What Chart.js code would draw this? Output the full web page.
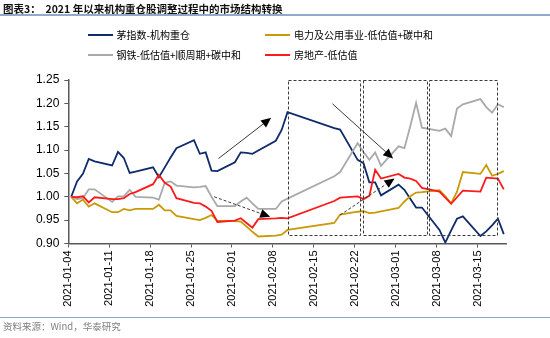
<!DOCTYPE html>
<html><head><meta charset="utf-8">
<script src="https://cdn.jsdelivr.net/npm/chart.js@4/dist/chart.umd.min.js"></script>
<style>
html,body{margin:0;padding:0;background:#fff;}
#wrap{position:relative;width:550px;height:338px;overflow:hidden;font-family:"Noto Sans CJK SC","Liberation Sans",sans-serif;}
#c{position:absolute;left:0;top:0;}
.title{position:absolute;left:3px;top:1px;font-size:10.5px;font-weight:bold;color:#111;white-space:nowrap;line-height:16px;}
.rule{position:absolute;left:0;width:550px;height:2px;background:#8FAACD;}
.leg{position:absolute;font-size:10px;line-height:14px;white-space:nowrap;color:#000;}
.leg i{position:absolute;left:0;top:6px;width:25px;height:2px;}
.leg span{position:absolute;left:29px;top:0;}
.src{position:absolute;left:3px;top:319px;font-size:9.5px;line-height:14px;color:#7f7f7f;white-space:nowrap;}
</style>
</head>
<body>
<div id="wrap">
  <canvas id="c" width="550" height="338"></canvas>
  <div class="title">图表3：&nbsp;&nbsp;2021 年以来机构重仓股调整过程中的市场结构转换</div>
  <div class="rule" style="top:14px;"></div>
  <div id="legend"></div>
  <div class="rule" style="top:316.5px;height:1.5px;"></div>
  <div class="src">资料来源：Wind，华泰研究</div>
</div>
<script>
// ---- data ----
const dates = [
 "2021-01-04","2021-01-05","2021-01-06","2021-01-07","2021-01-08",
 "2021-01-11","2021-01-12","2021-01-13","2021-01-14","2021-01-15",
 "2021-01-18","2021-01-19","2021-01-20","2021-01-21","2021-01-22",
 "2021-01-25","2021-01-26","2021-01-27","2021-01-28","2021-01-29",
 "2021-02-01","2021-02-02","2021-02-03","2021-02-04","2021-02-05",
 "2021-02-08","2021-02-09","2021-02-10","2021-02-18","2021-02-19",
 "2021-02-22","2021-02-23","2021-02-24","2021-02-25","2021-02-26",
 "2021-03-01","2021-03-02","2021-03-03","2021-03-04","2021-03-05",
 "2021-03-08","2021-03-09","2021-03-10","2021-03-11","2021-03-12",
 "2021-03-15","2021-03-16","2021-03-17","2021-03-18","2021-03-19"
];
const maoIndex = [
 1.000,1.033,1.049,1.081,1.076,
 1.067,1.096,1.083,1.051,1.054,
 1.063,1.042,1.063,1.084,1.104,
 1.121,1.092,1.095,1.056,1.055,
 1.074,1.095,1.094,1.092,1.099,
 1.120,1.143,1.181,1.147,1.144,
 1.079,1.072,1.031,1.031,1.003,
 1.026,1.015,0.996,0.977,0.977,
 0.929,0.902,0.928,0.953,0.958,
 0.916,0.926,0.939,0.953,0.920
];
const utilities = [
 1.000,0.986,0.994,0.979,0.986,
 0.967,0.967,0.974,0.971,0.974,
 0.974,0.983,0.971,0.971,0.959,
 0.952,0.950,0.955,0.961,0.949,
 0.948,0.947,0.936,0.925,0.915,
 0.917,0.919,0.929,0.944,0.962,
 0.968,0.969,0.965,0.966,0.969,
 0.976,0.990,1.001,1.009,1.010,
 1.014,1.001,0.986,1.011,1.053,
 1.049,1.068,1.045,1.049,1.055
];
const steel = [
 1.000,0.995,0.997,1.016,1.016,
 0.989,1.001,1.001,1.015,1.000,
 0.998,0.994,1.030,1.033,1.024,
 1.020,1.021,1.023,1.000,0.980,
 0.980,0.990,0.998,0.986,0.974,
 0.974,0.990,0.996,1.044,1.053,
 1.115,1.096,1.079,1.095,1.066,
 1.108,1.104,1.151,1.201,1.148,
 1.141,1.146,1.130,1.189,1.198,
 1.209,1.192,1.180,1.198,1.192
];
const realEstate = [
 1.000,0.999,1.001,0.988,0.999,
 0.995,0.995,0.997,1.006,1.010,
 1.027,1.047,1.030,1.022,0.997,
 0.987,0.986,0.979,0.970,0.946,
 0.949,0.954,0.944,0.934,0.952,
 0.954,0.955,0.954,0.991,0.998,
 1.001,0.995,1.002,1.058,1.039,
 1.049,1.041,1.039,1.034,1.019,
 1.011,0.998,0.985,0.999,1.013,
 1.011,1.041,1.040,1.039,1.016
];
const seriesNames = ["茅指数-机构重仓","电力及公用事业-低估值+碳中和","钢铁-低估值+顺周期+碳中和","房地产-低估值"];
const seriesColors = ["#0F2B6B","#C99A06","#A9A9A9","#FF1A1A"];
const xTickLabels = ["2021-01-04","2021-01-11","2021-01-18","2021-01-25","2021-02-01","2021-02-08","2021-02-15","2021-02-22","2021-03-01","2021-03-08","2021-03-15"];
const yTickValues = [0.90,0.95,1.00,1.05,1.10,1.15,1.20,1.25];
const yTickLabels = ["0.90","0.95","1.00","1.05","1.10","1.15","1.20","1.25"];

// annotations in data space (x: days since 2021-01-04, y: value)
const annoBoxes = [
 {x0:37.53,x1:49.97,y0:0.919,y1:1.251},
 {x0:50.35,x1:61.43,y0:0.919,y1:1.251},
 {x0:61.77,x1:73.35,y0:0.919,y1:1.251}
];
const annoArrows = [
 {x0:25.70,y0:1.082,x1:34.71,y1:1.169,dashed:false},
 {x0:24.96,y0:1.000,x1:34.54,y1:0.957,dashed:true},
 {x0:45.19,y0:1.199,x1:55.57,y1:1.082,dashed:false},
 {x0:46.50,y0:0.961,x1:55.82,y1:1.039,dashed:true}
];

// ---- helpers ----
const base = Date.UTC(2021,0,4);
function dayOf(s){const p=s.split('-').map(Number);return (Date.UTC(p[0],p[1]-1,p[2])-base)/86400000;}
function pts(arr){return dates.map((d,i)=>({x:dayOf(d)+0.5,y:arr[i]}));}

// legend (HTML)
const legPos=[[87.5,28],[265,28],[87.5,48],[265,48]];
const legEl=document.getElementById('legend');
seriesNames.forEach((n,i)=>{
  const d=document.createElement('div');d.className='leg';
  d.style.left=legPos[i][0]+'px';d.style.top=legPos[i][1]+'px';
  d.innerHTML='<i style="background:'+seriesColors[i]+'"></i><span>'+n+'</span>';
  legEl.appendChild(d);
});

const annoPlugin={
  id:'anno',
  afterDatasetsDraw(chart){
    const {ctx,scales:{x,y}}=chart;
    ctx.save();
    ctx.strokeStyle='#3a3a3a';ctx.lineWidth=1;
    ctx.setLineDash([3,2]);
    annoBoxes.forEach(b=>{
      const l=Math.round(x.getPixelForValue(b.x0))+0.5, r=Math.round(x.getPixelForValue(b.x1))+0.5;
      const t=Math.round(y.getPixelForValue(b.y1))+0.5, bt=Math.round(y.getPixelForValue(b.y0))+0.5;
      ctx.strokeRect(l,t,r-l,bt-t);
    });
    annoArrows.forEach(a=>{
      const sx=x.getPixelForValue(a.x0), sy=y.getPixelForValue(a.y0);
      const tx=x.getPixelForValue(a.x1), ty=y.getPixelForValue(a.y1);
      const ang=Math.atan2(ty-sy,tx-sx), hl=10, hw=4.5;
      const bx=tx-hl*Math.cos(ang), by=ty-hl*Math.sin(ang);
      ctx.setLineDash(a.dashed?[3,2]:[]);
      ctx.strokeStyle='#3a3a3a';ctx.lineWidth=1;
      ctx.beginPath();ctx.moveTo(sx,sy);ctx.lineTo(bx,by);ctx.stroke();
      ctx.setLineDash([]);
      ctx.fillStyle='#000';
      ctx.beginPath();ctx.moveTo(tx,ty);
      ctx.lineTo(bx+hw*Math.sin(ang),by-hw*Math.cos(ang));
      ctx.lineTo(bx-hw*Math.sin(ang),by+hw*Math.cos(ang));
      ctx.closePath();ctx.fill();
    });
    ctx.restore();
  }
};

Chart.defaults.font.family="'Liberation Sans', Arial, sans-serif";
Chart.defaults.color='#000';
const arrs=[maoIndex,utilities,steel,realEstate];
const orders=[4,3,2,1];
new Chart(document.getElementById('c'),{
  type:'line',
  data:{datasets:arrs.map((a,i)=>({
    label:seriesNames[i],data:pts(a),borderColor:seriesColors[i],backgroundColor:seriesColors[i],
    borderWidth:1.8,pointRadius:0,tension:0,fill:false,order:orders[i]
  }))},
  options:{
    responsive:false,animation:false,devicePixelRatio:1,
    layout:{padding:{top:80,left:0,right:43.3,bottom:20}},
    plugins:{legend:{display:false},tooltip:{enabled:false}},
    scales:{
      x:{type:'linear',min:0,max:75,
        afterBuildTicks(s){s.ticks=xTickLabels.map(l=>({value:dayOf(l)}));},
        afterFit(s){s.height=74.5;},
        ticks:{minRotation:90,maxRotation:90,padding:3,font:{size:11},color:'#000',
          callback:(v,i)=>xTickLabels[i]},
        grid:{drawOnChartArea:false,drawTicks:true,tickLength:4,color:'#595959',lineWidth:1},
        border:{display:true,color:'#595959',width:1.5}
      },
      y:{min:0.9,max:1.25,
        afterBuildTicks(s){s.ticks=yTickValues.map(v=>({value:v}));},
        afterFit(s){s.width=68.3;},
        ticks:{padding:5,font:{size:12},color:'#000',callback:(v,i)=>yTickLabels[i]},
        grid:{drawOnChartArea:false,drawTicks:true,tickLength:4,color:'#595959',lineWidth:1},
        border:{display:true,color:'#595959',width:1.5}
      }
    }
  },
  plugins:[annoPlugin]
});
</script>
</body></html>
